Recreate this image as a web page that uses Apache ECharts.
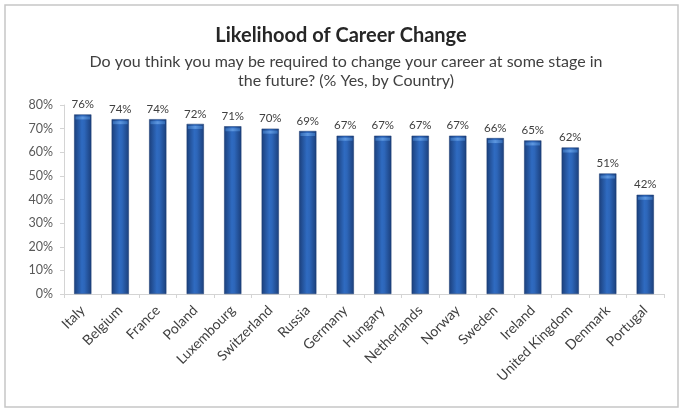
<!DOCTYPE html>
<html>
<head>
<meta charset="utf-8">
<script src="https://cdn.jsdelivr.net/npm/echarts@6/dist/echarts.min.js"></script>
<style>
  html, body { margin: 0; padding: 0; background: #ffffff; }
  #chart { width: 682px; height: 412px; }
</style>
</head>
<body>
<div id="chart"></div>
<script>
// Survey results: share answering "Yes", by country
const countries = ['Italy', 'Belgium', 'France', 'Poland', 'Luxembourg', 'Switzerland', 'Russia', 'Germany',
  'Hungary', 'Netherlands', 'Norway', 'Sweden', 'Ireland', 'United Kingdom', 'Denmark', 'Portugal'];
const yesShare = [76, 74, 74, 72, 71, 70, 69, 67, 67, 67, 67, 66, 65, 62, 51, 42];
const yTicks = [0, 10, 20, 30, 40, 50, 60, 70, 80];

const titleText = 'Likelihood of Career Change';
const subtitleText = 'Do you think you may be required to change your career at some stage in\nthe future? (% Yes, by Country)';

const chart = echarts.init(document.getElementById('chart'), null, { renderer: 'canvas' });

// cylinder-like shading across each column
const barFill = new echarts.graphic.LinearGradient(0, 0, 1, 0, [
  { offset: 0, color: '#1b3f7b' },
  { offset: 0.45, color: '#2f6bc1' },
  { offset: 0.6, color: '#2d66b9' },
  { offset: 1, color: '#1b3f7b' }
]);
// lighter rim at the top of each column
const capFill = new echarts.graphic.LinearGradient(0, 0, 1, 0, [
  { offset: 0, color: '#336bb5' },
  { offset: 0.5, color: '#5d97e0' },
  { offset: 1, color: '#336bb5' }
]);

chart.setOption({
  animation: false,
  backgroundColor: '#ffffff',
  graphic: [{
    type: 'rect',
    shape: { x: 5, y: 5, width: 673, height: 402 },
    style: { fill: 'none', stroke: '#c6c6c6', lineWidth: 1.5 },
    silent: true
  }],
  title: [{
    text: titleText,
    left: 'center',
    top: 21,
    textStyle: { fontFamily: 'Lato', fontWeight: 'bold', fontSize: 20, color: '#262626' }
  }, {
    text: subtitleText,
    left: 341,
    top: 47,
    textAlign: 'center',
    textStyle: { fontFamily: 'Lato', fontWeight: 'normal', fontSize: 16, color: '#404040', lineHeight: 19, align: 'center' }
  }],
  grid: { left: 64, right: 18, top: 105, bottom: 118, containLabel: false },
  xAxis: {
    type: 'category',
    data: countries,
    axisLine: { lineStyle: { color: '#d4d4d4', width: 1 } },
    axisTick: { show: true, alignWithLabel: false, length: 4, lineStyle: { color: '#d4d4d4' } },
    axisLabel: {
      interval: 0, rotate: 45, margin: 14,
      fontFamily: 'Lato', fontSize: 14, color: '#404040'
    }
  },
  yAxis: {
    type: 'value',
    min: yTicks[0],
    max: yTicks[yTicks.length - 1],
    interval: 10,
    splitLine: { show: false },
    axisLine: { show: true, lineStyle: { color: '#d4d4d4', width: 1 } },
    axisTick: { show: true, length: 4, lineStyle: { color: '#d4d4d4' } },
    axisLabel: {
      formatter: v => v + '%', margin: 11,
      fontFamily: 'Lato', fontSize: 12.5, color: '#595959'
    }
  },
  series: [{
    type: 'bar',
    data: yesShare,
    barWidth: '46%',
    barGap: '-100%',
    itemStyle: { color: barFill, borderColor: '#18386e', borderWidth: 0.5 },
    label: {
      show: true, position: 'top', distance: 4,
      formatter: p => p.value + '%',
      fontFamily: 'Lato', fontSize: 11.5, color: '#404040'
    },
    z: 2
  }, {
    type: 'pictorialBar',
    data: yesShare,
    barWidth: '46%',
    barGap: '-100%',
    symbol: 'rect',
    symbolSize: ['85%', 3],
    symbolPosition: 'end',
    symbolOffset: [0, 2],
    itemStyle: { color: capFill },
    silent: true,
    z: 3
  }]
});
</script>
</body>
</html>
